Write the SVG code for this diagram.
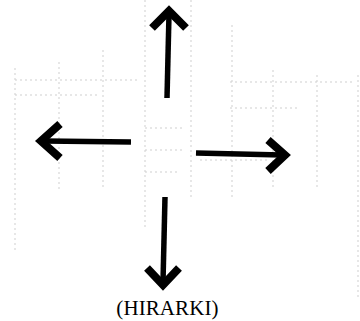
<svg xmlns="http://www.w3.org/2000/svg" width="360" height="321" viewBox="0 0 360 321">
<style>
.shaft{stroke:#000;stroke-width:5.5;fill:none;stroke-linecap:butt}
.head{stroke:#000;stroke-width:8;fill:none;stroke-linejoin:miter;stroke-linecap:butt}
.faint{stroke:#cfcfcf;stroke-width:1;stroke-dasharray:2 3;fill:none}
.label{font-family:"Liberation Serif","Times New Roman",serif;font-size:21px;fill:#000;letter-spacing:0.1px}
</style>
<rect width="360" height="321" fill="#fff"/>
<g id="texture">
<path class="faint" d="M15 68V250M59 62V190M103 50V190M145 0V230M191 0V200M232 25V200M273 70V190M317 75V190M358 75V300"/>
<path class="faint" d="M15 80H140M15 95H100M230 82H355M230 108H300M145 128H185M145 150H185M145 172H180M200 160H270"/>
</g>
<g id="connectors">
<g id="arrow-up"><line class="shaft" x1="167" y1="98" x2="169" y2="14"/><polyline class="head" points="152,28 169,11 186,28"/></g>
<g id="arrow-left"><line class="shaft" x1="131" y1="142" x2="44" y2="141"/><polyline class="head" points="60,124 41,141 60,158"/></g>
<g id="arrow-right"><line class="shaft" x1="196" y1="153" x2="282" y2="155"/><polyline class="head" points="268,140 285,155 268,171"/></g>
<g id="arrow-down"><line class="shaft" x1="165" y1="197" x2="163" y2="282"/><polyline class="head" points="147,268 163,285 179,268"/></g>
</g>
<g id="label"><text class="label" x="167.5" y="315" text-anchor="middle">(HIRARKI)</text></g>
</svg>
